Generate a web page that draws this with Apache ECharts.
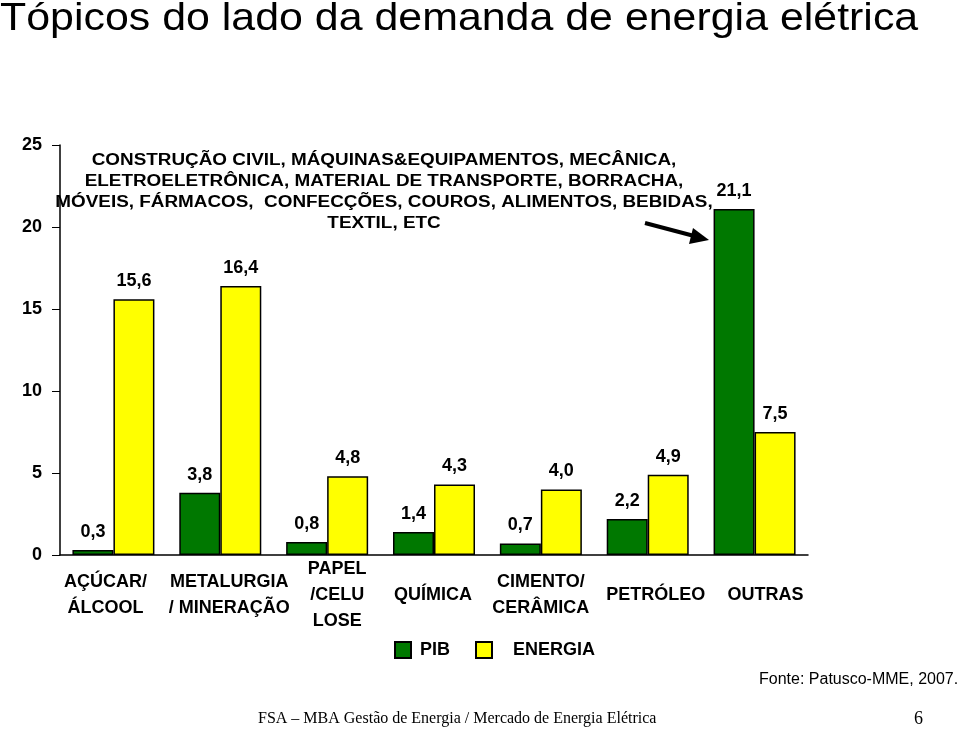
<!DOCTYPE html>
<html>
<head>
<meta charset="utf-8">
<script src="https://cdn.jsdelivr.net/npm/echarts@6/dist/echarts.min.js"></script>
<style>
html,body{margin:0;padding:0;background:#fff;}
#chart{width:960px;height:730px;}
</style>
</head>
<body>
<div id="chart"></div>
<script>
var categories = ['AÇÚCAR/\nÁLCOOL', 'METALURGIA\n/ MINERAÇÃO', 'PAPEL\n/CELU\nLOSE', 'QUÍMICA', 'CIMENTO/\nCERÂMICA', 'PETRÓLEO', 'OUTRAS'];
var pib = [0.3, 3.8, 0.8, 1.4, 0.7, 2.2, 21.1];
var energia = [15.6, 16.4, 4.8, 4.3, 4.0, 4.9, 7.5];
var yTicks = [0, 5, 10, 15, 20, 25];
var annotationLines = [
  'CONSTRUÇÃO CIVIL, MÁQUINAS&EQUIPAMENTOS, MECÂNICA,',
  'ELETROELETRÔNICA, MATERIAL DE TRANSPORTE, BORRACHA,',
  'MÓVEIS, FÁRMACOS,  CONFECÇÕES, COUROS, ALIMENTOS, BEBIDAS,',
  'TEXTIL, ETC'
];

var FONT = '"Liberation Sans", Arial, sans-serif';
var SERIF = '"Liberation Serif", "Times New Roman", serif';
var chart = echarts.init(document.getElementById('chart'));
function fmt(p){ return p.value.toFixed(1).replace('.', ','); }
var labelStyle = {show:true, position:'top', distance:9, formatter:fmt, fontFamily:FONT, fontWeight:'bold', fontSize:18, color:'#000'};

// small horizontal nudges of the category labels (layout only)
var labelShift = [-8, 9, 10, -1, 0, 8, 11];
var rich = {};
labelShift.forEach(function(dx, i){
  rich['c' + i] = {fontFamily:FONT, fontWeight:'bold', fontSize:18, color:'#000', lineHeight:26,
    padding: dx >= 0 ? [0, 0, 0, 2*dx] : [0, -2*dx, 0, 0]};
});

chart.setOption({
  backgroundColor:'#fff',
  animation:false,
  legend:[
    {data:['PIB'], left:389, top:636, itemWidth:16, itemHeight:16, icon:'rect',
     textStyle:{fontFamily:FONT, fontWeight:'bold', fontSize:18, color:'#000', padding:[0,0,0,4]}},
    {data:['ENERGIA'], left:470, top:636, itemWidth:16, itemHeight:16, icon:'rect',
     textStyle:{fontFamily:FONT, fontWeight:'bold', fontSize:18, color:'#000', padding:[0,0,0,16]}}
  ],
  grid:{left:60, right:152, top:145, bottom:175, containLabel:false},
  xAxis:{type:'category', data:categories,
    axisLine:{show:true, lineStyle:{color:'#000', width:1.5}},
    axisTick:{show:false},
    axisLabel:{interval:0, margin:40, verticalAlign:'middle', lineHeight:26,
      fontFamily:FONT, fontWeight:'bold', fontSize:18, color:'#000',
      formatter:function(v, i){
        return v.split('\n').map(function(l){ return '{c' + i + '|' + l + '}'; }).join('\n');
      }, rich:rich}},
  yAxis:{type:'value', min:0, max:25, interval:5,
    axisLine:{show:true, lineStyle:{color:'#000', width:1.5}},
    axisTick:{show:true, length:8, lineStyle:{color:'#000'}},
    splitLine:{show:false},
    axisLabel:{margin:18, fontFamily:FONT, fontWeight:'bold', fontSize:18, color:'#000',
      formatter:function(v){return yTicks.indexOf(v)>=0?String(v):'';}}},
  series:[
    {name:'PIB', type:'bar', data:pib, barWidth:41, barGap:'0%',
     itemStyle:{color:'#007800', borderColor:'#000', borderWidth:1.5}, label:labelStyle},
    {name:'ENERGIA', type:'bar', data:energia, barWidth:41, barGap:'0%',
     itemStyle:{color:'#FFFF00', borderColor:'#000', borderWidth:1.5}, label:labelStyle}
  ],
  graphic:[
    {type:'text', x:0, y:0, scaleX:1.1, style:{text:'Tópicos do lado da demanda de energia elétrica',
      font:'39px ' + FONT, fill:'#000', verticalAlign:'top', align:'left'}},
    {type:'text', x:384, y:150, scaleX:1.18, style:{text:annotationLines.join('\n'), align:'center', verticalAlign:'top',
      font:'bold 16px ' + FONT, lineHeight:21, fill:'#000'}},
    {type:'line', shape:{x1:645, y1:223, x2:698, y2:237}, style:{stroke:'#000', lineWidth:4}},
    {type:'polygon', shape:{points:[[709,240],[693,228],[689,244]]}, style:{fill:'#000'}},
    {type:'text', x:759, y:672, style:{text:'Fonte: Patusco-MME, 2007.', font:'16px ' + FONT, fill:'#000'}},
    {type:'text', x:258, y:711, style:{text:'FSA – MBA Gestão de Energia / Mercado de Energia Elétrica', font:'16px ' + SERIF, fill:'#000'}},
    {type:'text', x:914, y:710, style:{text:'6', font:'18px ' + SERIF, fill:'#000'}}
  ]
});
</script>
</body>
</html>
